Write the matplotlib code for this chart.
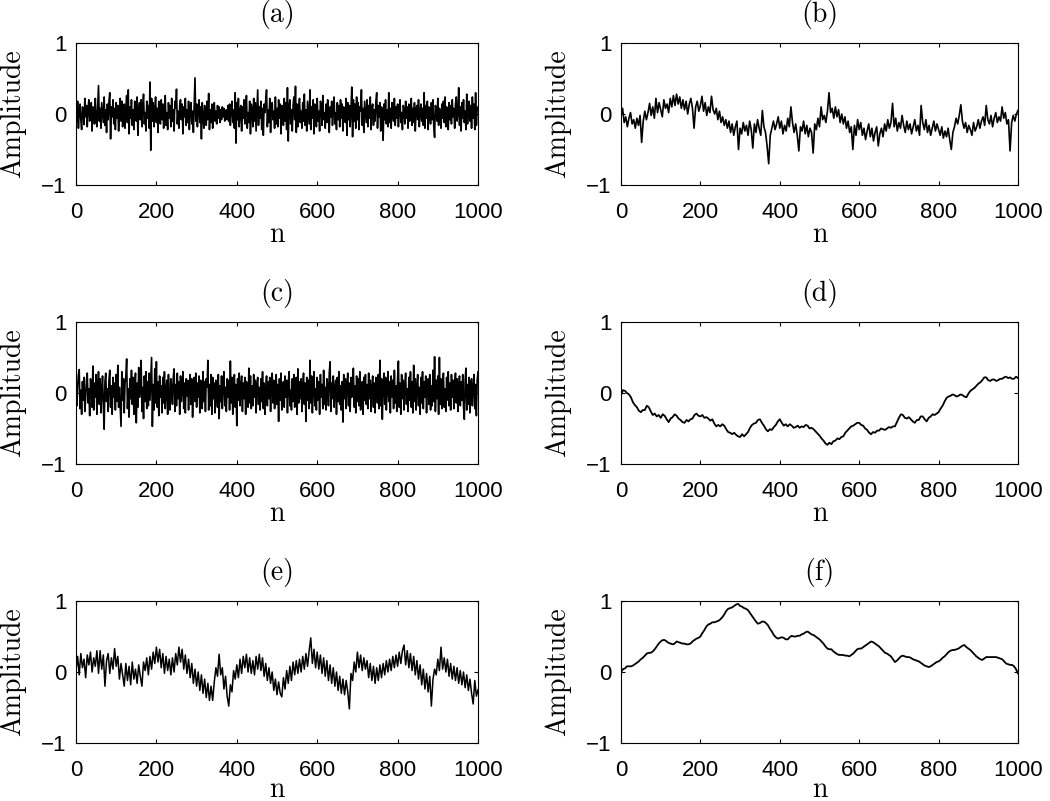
import numpy as np
import matplotlib
matplotlib.use("Agg")
import matplotlib.pyplot as plt

# ---------------- data ----------------
panel_titles = ["(a)", "(b)", "(c)", "(d)", "(e)", "(f)"]
x_label = "n"
y_label = "Amplitude"
x_ticks = [0, 200, 400, 600, 800, 1000]
y_ticks = [-1, 0, 1]
n_first, n_last = 0, 1000   # samples run evenly from n = 0 to n = 1000

# (a) white noise, sampled every 2 n
sig_a = [
    0.05, -0.12, 0.18, -0.20, 0.02, 0.14, -0.08, -0.22, 0.10, 0.06,
    -0.15, 0.22, -0.04, 0.12, -0.18, 0.08, 0.20, -0.10, -0.02, 0.16,
    -0.24, 0.10, 0.04, -0.14, 0.22, -0.06, -0.18, 0.12, 0.40, -0.10,
    0.08, -0.20, 0.16, 0.02, -0.12, 0.24, -0.16, 0.06, -0.26, 0.14,
    -0.08, 0.18, 0.30, -0.35, 0.10, -0.04, 0.20, -0.14, 0.08, -0.22,
    0.16, -0.06, 0.12, -0.24, 0.04, 0.22, -0.10, 0.18, -0.18, 0.02,
    0.14, -0.20, 0.08, 0.26, -0.12, 0.34, -0.28, 0.10, -0.06, 0.20,
    -0.16, 0.06, -0.22, 0.18, 0.12, -0.10, 0.24, -0.30, 0.04, 0.16,
    -0.08, 0.20, -0.18, 0.10, 0.28, -0.14, 0.02, -0.24, 0.18, -0.06,
    0.12, -0.20, 0.45, -0.51, 0.22, -0.10, 0.16, -0.18, 0.06, 0.24,
    -0.12, 0.08, -0.26, 0.18, 0.04, -0.14, 0.20, -0.08, 0.14, -0.20,
    0.10, 0.26, -0.16, 0.02, -0.22, 0.16, -0.06, 0.12, -0.18, 0.22,
    -0.10, 0.06, -0.24, 0.18, 0.08, 0.35, -0.14, 0.04, -0.20, 0.12,
    0.20, -0.08, 0.14, -0.28, 0.10, -0.04, 0.22, -0.16, 0.06, -0.12,
    0.18, -0.22, 0.08, 0.16, -0.14, 0.04, -0.26, 0.12, 0.51, -0.10,
    0.14, -0.18, 0.06, 0.20, -0.12, 0.10, -0.35, 0.16, -0.04, -0.20,
    0.12, 0.02, -0.16, 0.18, -0.08, 0.29, -0.22, 0.06, -0.12, 0.14,
    -0.20, 0.08, 0.16, -0.10, 0.04, -0.14, 0.12, -0.06, 0.10, -0.12,
    0.06, -0.08, 0.10, -0.04, 0.08, -0.10, 0.02, 0.06, -0.08, 0.12,
    -0.10, 0.14, -0.16, 0.08, 0.18, -0.12, 0.06, -0.20, 0.30, -0.41,
    0.16, -0.08, 0.22, -0.18, 0.04, 0.12, -0.24, 0.10, -0.06, 0.20,
    -0.14, 0.08, 0.26, -0.20, 0.02, -0.12, 0.18, -0.28, 0.14, 0.06,
    -0.18, 0.22, -0.10, 0.16, -0.24, 0.04, 0.34, -0.16, 0.10, -0.06,
    0.18, -0.22, 0.08, -0.30, 0.14, 0.02, 0.20, 0.34, -0.18, 0.06,
    -0.12, 0.22, -0.26, 0.10, 0.16, -0.08, 0.04, -0.20, 0.24, -0.14,
    0.08, -0.18, 0.20, -0.06, 0.14, -0.28, 0.12, 0.02, -0.16, 0.22,
    -0.10, 0.16, -0.22, 0.37, -0.38, 0.10, 0.20, -0.14, 0.06, -0.24,
    0.12, 0.24, -0.08, 0.39, -0.26, 0.14, -0.18, 0.08, 0.22, -0.12,
    0.04, -0.20, 0.16, -0.10, 0.28, -0.16, 0.06, -0.24, 0.18, 0.02,
    -0.14, 0.34, -0.22, 0.10, -0.06, 0.20, -0.28, 0.14, 0.08, -0.18,
    0.22, -0.10, 0.04, -0.24, 0.18, 0.12, -0.16, 0.26, -0.08, 0.02,
    -0.20, 0.14, -0.12, 0.20, 0.06, -0.26, 0.10, -0.04, 0.18, -0.16,
    0.08, 0.24, -0.14, 0.02, -0.22, 0.16, -0.08, 0.12, -0.18, 0.20,
    -0.06, 0.14, -0.24, 0.10, 0.04, -0.12, 0.22, -0.30, 0.16, -0.08,
    0.12, -0.18, 0.06, 0.38, -0.32, 0.20, -0.10, 0.14, -0.20, 0.24,
    -0.08, 0.16, -0.22, 0.10, 0.04, 0.34, -0.16, 0.08, -0.26, 0.18,
    0.02, -0.12, 0.20, -0.18, 0.12, -0.06, 0.24, -0.22, 0.08, 0.14,
    -0.16, 0.06, -0.10, 0.18, 0.30, -0.20, 0.12, -0.04, 0.16, -0.24,
    0.10, 0.04, -0.37, 0.14, -0.08, 0.20, -0.14, 0.06, -0.18, 0.30,
    -0.12, 0.08, -0.20, 0.16, 0.02, -0.10, 0.22, -0.16, 0.10, -0.06,
    0.14, -0.18, 0.06, 0.20, -0.12, 0.02, -0.22, 0.12, 0.08, -0.14,
    0.18, -0.06, 0.10, -0.20, 0.14, -0.10, 0.04, 0.22, -0.16, 0.08,
    -0.12, 0.16, -0.24, 0.06, 0.12, -0.08, 0.20, -0.18, 0.02, 0.14,
    -0.10, 0.08, -0.16, 0.30, -0.20, 0.12, -0.06, 0.18, -0.22, 0.10,
    0.04, -0.14, 0.16, -0.08, 0.20, -0.18, -0.33, 0.12, 0.06, -0.10,
    0.22, -0.16, 0.08, 0.02, -0.20, 0.14, -0.06, 0.18, -0.12, 0.24,
    -0.18, 0.10, 0.04, -0.22, 0.16, -0.08, 0.12, -0.14, 0.20, -0.04,
    0.08, -0.20, 0.14, 0.24, -0.10, 0.02, 0.37, -0.16, 0.10, -0.24,
    0.16, -0.06, 0.20, -0.12, 0.04, -0.22, 0.28, -0.14, 0.08, 0.18,
    -0.10, 0.12, -0.20, 0.24, -0.06, 0.14, -0.22, 0.30, -0.16, 0.08,
    0.10,
]

# (b) coloured noise with slow drift, sampled every 4 n
sig_b = [
    -0.02, 0.08, -0.12, -0.04, -0.18, -0.06, 0.02, -0.14, -0.08, -0.20,
    -0.06, -0.16, -0.02, -0.40, -0.10, 0.04, -0.08, 0.02, 0.15, -0.02,
    0.10, -0.06, 0.22, 0.02, 0.16, 0.06, -0.04, 0.20, 0.08, 0.14,
    0.02, 0.22, 0.10, 0.26, 0.12, 0.28, 0.14, 0.24, 0.08, 0.20,
    0.06, 0.18, 0.00, 0.14, 0.22, 0.08, -0.20, 0.10, 0.18, 0.04,
    0.12, 0.25, 0.04, 0.16, -0.02, 0.10, 0.02, 0.25, 0.06, 0.00,
    0.08, -0.08, 0.04, -0.12, -0.04, -0.16, -0.08, -0.20, -0.10, -0.26,
    -0.14, -0.30, -0.18, -0.10, -0.50, -0.20, -0.28, -0.12, -0.24, -0.16,
    -0.30, -0.10, -0.22, -0.48, -0.14, -0.26, -0.08, -0.20, -0.30, 0.05,
    -0.18, -0.26, -0.45, -0.70, -0.30, -0.20, -0.10, -0.22, -0.14, -0.04,
    -0.20, -0.10, -0.28, -0.16, -0.24, -0.06, -0.18, 0.10, -0.12, -0.26,
    -0.14, -0.30, -0.52, -0.18, -0.24, -0.10, -0.28, -0.16, -0.32, -0.20,
    -0.26, -0.55, -0.14, -0.22, -0.06, -0.18, 0.10, -0.08, -0.02, -0.12,
    0.04, 0.30, 0.02, 0.08, -0.06, 0.10, -0.04, 0.06, -0.12, 0.00,
    -0.14, -0.04, -0.20, -0.10, -0.26, -0.18, -0.50, -0.16, -0.30, -0.08,
    -0.22, -0.12, -0.30, -0.20, -0.36, -0.24, -0.14, -0.32, -0.20, -0.38,
    -0.26, -0.18, -0.45, -0.28, -0.20, -0.32, -0.14, -0.24, -0.08, -0.20,
    -0.12, 0.15, -0.18, -0.06, -0.24, -0.12, -0.20, -0.02, -0.16, -0.26,
    -0.10, -0.22, -0.14, -0.28, -0.18, -0.08, -0.24, -0.16, -0.30, 0.12,
    -0.12, -0.22, -0.08, -0.26, -0.16, -0.30, -0.20, -0.10, -0.24, -0.14,
    -0.22, -0.30, -0.18, -0.34, -0.24, -0.32, -0.20, -0.36, -0.50, -0.26,
    -0.18, -0.06, -0.14, -0.02, 0.13, -0.10, -0.20, -0.12, -0.26, -0.16,
    -0.22, -0.30, -0.12, -0.24, -0.18, -0.08, -0.20, -0.10, -0.04, -0.16,
    0.12, -0.08, -0.14, -0.02, -0.18, -0.06, 0.02, -0.12, -0.04, -0.10,
    0.10, -0.06, 0.02, -0.14, -0.08, -0.52, -0.12, -0.02, -0.10, 0.00,
    0.05,
]

# (c) stronger white noise, sampled every 2 n
sig_c = [
    0.12, -0.18, 0.08, 0.26, 0.33, -0.22, 0.04, -0.30, 0.16, -0.10,
    0.22, -0.26, -0.08, 0.18, 0.28, -0.14, 0.06, -0.32, 0.20, 0.10,
    -0.20, 0.38, -0.24, 0.14, -0.06, 0.26, -0.30, 0.08, 0.30, -0.16,
    0.20, -0.28, 0.02, 0.24, -0.18, -0.51, 0.16, 0.28, -0.12, 0.06,
    -0.26, 0.18, 0.32, -0.20, 0.10, -0.30, 0.22, -0.06, 0.14, -0.24,
    0.26, -0.12, 0.39, -0.20, 0.08, -0.18, -0.47, 0.30, -0.10, 0.20,
    -0.28, 0.14, 0.24, 0.48, -0.22, 0.06, -0.34, 0.20, -0.08, 0.32,
    -0.16, 0.22, -0.30, 0.10, 0.28, -0.42, 0.14, -0.20, 0.36, -0.06,
    0.18, 0.46, -0.26, 0.08, -0.36, 0.24, -0.12, 0.30, -0.22, 0.16,
    -0.18, 0.28, -0.10, 0.20, 0.50, -0.47, 0.12, -0.24, 0.34, -0.14,
    0.44, -0.20, 0.16, -0.32, 0.24, -0.06, 0.10, -0.28, 0.22, -0.14,
    0.30, -0.22, 0.04, 0.18, -0.30, 0.26, -0.10, -0.24, 0.20, 0.08,
    -0.16, 0.22, 0.34, -0.26, 0.12, -0.18, 0.28, -0.08, 0.16, -0.30,
    0.24, -0.12, 0.06, 0.30, -0.22, 0.14, -0.28, 0.20, -0.04, 0.18,
    -0.24, 0.10, 0.26, -0.16, 0.20, -0.34, 0.08, 0.22, -0.12, 0.28,
    -0.20, 0.14, -0.06, 0.24, -0.28, 0.18, 0.04, -0.22, 0.30, -0.12,
    0.16, -0.26, 0.20, 0.08, 0.46, -0.24, 0.12, -0.18, 0.26, -0.30,
    0.22, -0.08, 0.14, -0.28, 0.18, 0.02, -0.20, 0.26, -0.36, 0.10,
    -0.12, 0.24, -0.22, 0.16, 0.30, -0.18, 0.08, -0.26, 0.20, -0.06,
    0.18, -0.24, 0.45, -0.14, 0.22, -0.30, 0.10, 0.26, -0.20, 0.12,
    -0.46, 0.20, -0.10, 0.28, -0.18, 0.06, 0.24, -0.26, 0.14, -0.08,
    0.22, -0.30, 0.16, 0.04, -0.20, 0.35, -0.14, 0.24, -0.22, 0.10,
    -0.18, 0.26, -0.06, 0.18, -0.28, 0.12, 0.22, -0.16, 0.08, -0.24,
    0.20, -0.12, 0.30, -0.22, 0.14, -0.30, 0.06, 0.24, -0.18, 0.16,
    -0.08, 0.22, -0.26, 0.10, 0.28, -0.14, 0.18, -0.22, 0.04, 0.26,
    -0.16, 0.12, -0.40, 0.20, -0.10, 0.28, -0.24, 0.08, 0.16, -0.20,
    0.24, -0.06, 0.18, -0.28, 0.12, 0.30, -0.18, 0.04, -0.24, 0.20,
    -0.12, 0.26, -0.20, 0.10, 0.22, -0.30, 0.34, -0.14, 0.16, -0.08,
    0.20, -0.26, 0.08, 0.28, -0.16, 0.14, -0.40, 0.22, -0.10, 0.18,
    -0.22, 0.46, -0.14, 0.24, -0.28, 0.10, 0.30, -0.18, 0.06, -0.24,
    0.22, -0.10, 0.16, -0.30, 0.26, -0.06, 0.12, -0.22, 0.32, -0.16,
    0.08, -0.24, 0.20, 0.12, -0.18, 0.28, 0.44, -0.26, 0.14, -0.08,
    0.24, -0.20, 0.06, 0.18, -0.30, 0.22, -0.12, 0.30, -0.16, 0.10,
    -0.24, 0.16, -0.41, 0.26, -0.08, 0.20, -0.22, 0.12, 0.28, -0.18,
    0.14, -0.26, 0.22, -0.06, 0.18, 0.35, -0.20, 0.10, -0.28, 0.24,
    -0.12, 0.20, -0.18, 0.30, -0.24, 0.08, 0.16, -0.30, 0.22, -0.10,
    0.26, -0.16, 0.12, -0.22, 0.28, -0.08, 0.18, -0.26, 0.06, 0.24,
    -0.20, 0.14, -0.28, 0.22, 0.10, -0.14, 0.26, -0.22, 0.46, -0.18,
    0.20, -0.37, 0.12, 0.28, -0.16, 0.22, -0.24, 0.08, 0.30, -0.12,
    0.16, -0.28, 0.24, -0.06, 0.18, -0.22, 0.32, -0.14, 0.10, -0.26,
    0.22, 0.45, -0.20, 0.14, -0.30, 0.26, -0.08, 0.18, -0.24, 0.12,
    0.28, -0.16, 0.06, -0.26, 0.22, -0.10, 0.30, -0.20, 0.16, -0.28,
    0.39, -0.12, 0.20, -0.24, 0.10, 0.26, -0.18, 0.08, -0.30, 0.22,
    -0.14, 0.30, -0.22, 0.16, -0.06, 0.24, -0.28, 0.12, 0.20, -0.16,
    0.26, -0.24, 0.10, -0.18, 0.32, -0.12, 0.51, -0.26, 0.18, -0.08,
    0.24, -0.30, 0.50, -0.16, 0.20, -0.22, 0.12, 0.28, -0.20, 0.06,
    -0.26, 0.22, -0.10, 0.30, -0.18, 0.14, -0.24, 0.26, -0.06, 0.18,
    -0.22, 0.12, 0.28, -0.14, 0.20, -0.26, 0.08, 0.24, -0.18, 0.16,
    -0.10, 0.26, -0.20, -0.37, 0.18, 0.35, -0.24, 0.12, -0.16, 0.22,
    -0.28, 0.14, 0.20, -0.18, 0.08, 0.26, -0.22, 0.12, -0.32, 0.18,
    0.30,
]

# (d) slow random walk, sampled every 5 n
sig_d = [
    -0.03, 0.04, 0.03, 0.00, -0.02, -0.06, -0.13, -0.17, -0.20, -0.25,
    -0.27, -0.24, -0.24, -0.18, -0.20, -0.26, -0.31, -0.29, -0.33, -0.31,
    -0.35, -0.30, -0.32, -0.37, -0.41, -0.36, -0.34, -0.30, -0.32, -0.36,
    -0.38, -0.41, -0.42, -0.38, -0.40, -0.37, -0.36, -0.31, -0.29, -0.32,
    -0.33, -0.31, -0.35, -0.34, -0.36, -0.39, -0.37, -0.43, -0.47, -0.45,
    -0.47, -0.44, -0.46, -0.51, -0.55, -0.56, -0.58, -0.56, -0.59, -0.61,
    -0.62, -0.58, -0.61, -0.58, -0.55, -0.49, -0.45, -0.43, -0.42, -0.38,
    -0.37, -0.42, -0.46, -0.51, -0.54, -0.51, -0.52, -0.48, -0.45, -0.40,
    -0.37, -0.42, -0.46, -0.44, -0.47, -0.44, -0.46, -0.49, -0.48, -0.46,
    -0.49, -0.47, -0.48, -0.45, -0.46, -0.50, -0.49, -0.51, -0.54, -0.57,
    -0.60, -0.64, -0.67, -0.71, -0.73, -0.70, -0.72, -0.68, -0.67, -0.64,
    -0.65, -0.62, -0.61, -0.56, -0.53, -0.50, -0.47, -0.46, -0.44, -0.42,
    -0.42, -0.45, -0.46, -0.50, -0.52, -0.56, -0.58, -0.55, -0.56, -0.53,
    -0.53, -0.50, -0.51, -0.52, -0.50, -0.48, -0.49, -0.47, -0.47, -0.41,
    -0.35, -0.30, -0.31, -0.35, -0.36, -0.34, -0.37, -0.40, -0.42, -0.38,
    -0.38, -0.33, -0.33, -0.37, -0.40, -0.35, -0.33, -0.30, -0.31, -0.29,
    -0.27, -0.22, -0.18, -0.12, -0.07, -0.05, -0.04, -0.02, -0.03, -0.05,
    -0.04, -0.02, -0.03, -0.05, -0.06, -0.01, 0.03, 0.05, 0.07, 0.10,
    0.13, 0.15, 0.18, 0.22, 0.22, 0.18, 0.17, 0.19, 0.19, 0.17,
    0.18, 0.20, 0.20, 0.22, 0.23, 0.21, 0.22, 0.20, 0.20, 0.23,
    0.21,
]

# (e) coloured noise, sampled every 4 n
sig_e = [
    0.02, 0.22, -0.04, 0.26, 0.06, 0.18, -0.08, 0.24, 0.10, 0.28,
    0.00, 0.20, 0.08, 0.30, -0.02, 0.30, 0.04, 0.24, -0.20, 0.16,
    0.26, -0.02, 0.20, 0.04, 0.33, 0.08, 0.22, -0.10, 0.12, -0.04,
    -0.20, 0.12, -0.12, 0.08, -0.18, 0.14, -0.10, 0.04, -0.16, 0.10,
    -0.06, -0.20, 0.14, 0.02, 0.20, -0.04, 0.22, 0.04, 0.28, 0.12,
    0.35, 0.14, 0.32, 0.06, 0.26, -0.02, 0.22, 0.02, 0.18, -0.04,
    0.20, 0.00, 0.26, 0.10, 0.35, 0.14, 0.32, 0.04, 0.24, -0.02,
    0.18, -0.08, 0.12, -0.16, 0.04, -0.20, 0.00, -0.26, -0.04, -0.30,
    -0.10, -0.36, -0.16, -0.40, -0.20, -0.40, -0.14, 0.06, -0.06, 0.25,
    -0.04, 0.06, -0.24, -0.06, -0.34, -0.48, -0.18, -0.28, 0.02, -0.10,
    0.10, -0.08, 0.18, -0.02, 0.22, 0.06, 0.25, 0.00, 0.20, -0.02,
    0.16, -0.04, 0.22, 0.04, 0.25, 0.02, 0.20, -0.06, 0.12, -0.12,
    0.06, -0.16, 0.00, -0.26, -0.10, -0.32, -0.14, -0.30, -0.35, -0.08,
    -0.24, 0.02, -0.16, 0.08, -0.12, 0.14, -0.04, 0.16, -0.02, 0.18,
    0.00, 0.22, 0.04, 0.26, 0.08, 0.30, 0.48, 0.12, 0.32, 0.06,
    0.28, 0.04, 0.24, -0.02, 0.20, -0.06, 0.16, -0.12, 0.10, -0.16,
    0.06, -0.20, 0.00, -0.26, -0.06, -0.30, -0.10, -0.32, -0.12, -0.28,
    -0.52, -0.02, -0.12, 0.14, 0.00, 0.28, 0.06, 0.24, 0.02, 0.20,
    0.04, 0.16, -0.08, 0.12, -0.12, 0.08, -0.16, 0.06, -0.12, 0.10,
    -0.08, 0.12, -0.04, 0.16, 0.00, 0.18, 0.02, 0.22, 0.06, 0.24,
    0.08, 0.28, 0.12, 0.30, 0.38, 0.10, 0.30, 0.06, 0.26, 0.02,
    0.22, -0.04, 0.16, -0.10, 0.10, -0.18, 0.04, -0.24, -0.02, -0.28,
    -0.06, -0.48, -0.10, 0.04, -0.04, 0.18, 0.02, 0.35, 0.04, 0.20,
    0.00, 0.18, -0.06, 0.12, -0.10, 0.08, -0.12, 0.06, -0.16, 0.02,
    -0.18, 0.00, -0.22, -0.04, -0.26, -0.10, -0.30, -0.45, -0.12, -0.34,
    -0.25,
]

# (f) smooth random walk, sampled every 5 n
sig_f = [
    0.00, 0.04, 0.05, 0.08, 0.08, 0.08, 0.09, 0.11, 0.13, 0.15,
    0.18, 0.20, 0.23, 0.26, 0.27, 0.27, 0.29, 0.32, 0.36, 0.40,
    0.43, 0.45, 0.45, 0.43, 0.41, 0.40, 0.39, 0.40, 0.43, 0.42,
    0.41, 0.40, 0.40, 0.39, 0.39, 0.40, 0.43, 0.45, 0.47, 0.48,
    0.50, 0.55, 0.59, 0.64, 0.67, 0.68, 0.70, 0.70, 0.71, 0.72,
    0.74, 0.77, 0.81, 0.86, 0.89, 0.90, 0.91, 0.93, 0.95, 0.96,
    0.93, 0.92, 0.90, 0.89, 0.87, 0.83, 0.79, 0.75, 0.71, 0.68,
    0.69, 0.71, 0.71, 0.69, 0.66, 0.61, 0.57, 0.52, 0.49, 0.47,
    0.48, 0.49, 0.48, 0.46, 0.46, 0.49, 0.51, 0.50, 0.50, 0.51,
    0.51, 0.53, 0.54, 0.56, 0.57, 0.55, 0.53, 0.52, 0.50, 0.48,
    0.46, 0.43, 0.40, 0.36, 0.33, 0.32, 0.32, 0.29, 0.27, 0.25,
    0.24, 0.24, 0.24, 0.23, 0.23, 0.22, 0.24, 0.26, 0.29, 0.32,
    0.33, 0.33, 0.35, 0.37, 0.39, 0.41, 0.43, 0.42, 0.40, 0.38,
    0.36, 0.33, 0.30, 0.27, 0.26, 0.24, 0.22, 0.18, 0.14, 0.16,
    0.19, 0.22, 0.23, 0.22, 0.21, 0.21, 0.20, 0.18, 0.17, 0.16,
    0.15, 0.13, 0.11, 0.09, 0.08, 0.07, 0.08, 0.10, 0.12, 0.14,
    0.15, 0.17, 0.20, 0.22, 0.25, 0.28, 0.30, 0.31, 0.31, 0.32,
    0.33, 0.35, 0.37, 0.38, 0.35, 0.33, 0.31, 0.28, 0.25, 0.22,
    0.20, 0.18, 0.17, 0.19, 0.21, 0.21, 0.21, 0.21, 0.21, 0.21,
    0.20, 0.19, 0.18, 0.15, 0.12, 0.11, 0.10, 0.10, 0.08, 0.04,
    -0.02,
]

series = [sig_a, sig_b, sig_c, sig_d, sig_e, sig_f]
line_widths = [1.2, 1.2, 1.2, 1.3, 1.1, 1.3]

# ---------------- layout / style ----------------
W, H = 1050, 801
fig = plt.figure(figsize=(W / 100, H / 100), dpi=100)

col_px = [(76, 478), (621, 1018)]
row_px = [(43, 185), (322, 464), (601, 743)]
xlabel_y = [-0.255, -0.255, -0.235]

serif = "cmr10"
tick_font = "Liberation Sans"

for i, (ys, title, lw) in enumerate(zip(series, panel_titles, line_widths)):
    r, c = divmod(i, 2)
    x0, x1 = col_px[c]
    y0, y1 = row_px[r]
    ax = fig.add_axes([x0 / W, 1 - y1 / H, (x1 - x0) / W, (y1 - y0) / H])
    xs = np.linspace(n_first, n_last, len(ys))
    ax.plot(xs, ys, color="black", linewidth=lw)
    ax.set_xlim(0, 1000)
    ax.set_ylim(-1, 1)
    ax.set_xticks(x_ticks)
    ax.set_yticks(y_ticks)
    ax.tick_params(direction="in", top=True, right=True, length=3,
                   width=0.8, labelsize=16)
    ax.tick_params(axis="x", pad=12)
    ax.tick_params(axis="y", pad=7)
    for lab in ax.get_xticklabels() + ax.get_yticklabels():
        lab.set_fontfamily(tick_font)
    for sp in ax.spines.values():
        sp.set_linewidth(0.8)
    ax.set_title(title, fontsize=20, family=serif, pad=15)
    ax.set_xlabel(x_label, fontsize=20, family=serif)
    ax.set_ylabel(y_label, fontsize=20, family=serif)
    ax.xaxis.set_label_coords(0.5, xlabel_y[r])
    ax.yaxis.set_label_coords(-0.125, 0.5)

fig.savefig("out.png", dpi=100)
